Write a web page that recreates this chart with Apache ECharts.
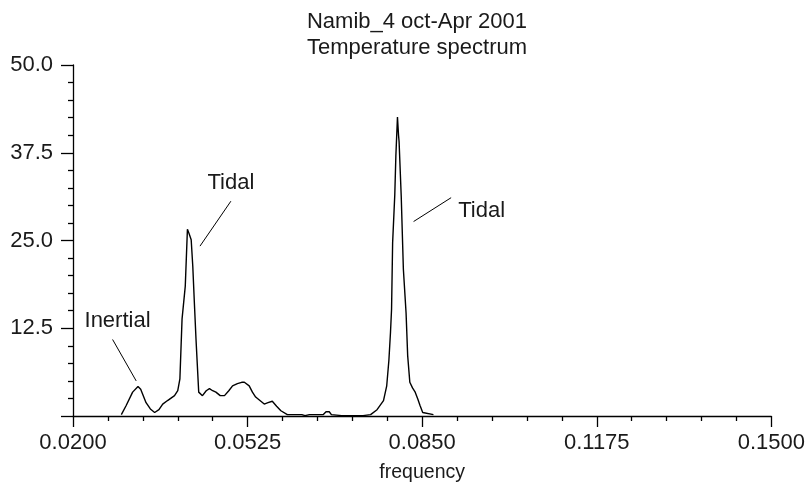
<!DOCTYPE html>
<html>
<head>
<meta charset="utf-8">
<script src="https://cdn.jsdelivr.net/npm/echarts@6/dist/echarts.min.js"></script>
<style>
  html, body { margin: 0; padding: 0; background: #fff; }
  #chart { width: 808px; height: 488px; }
</style>
</head>
<body>
<div id="chart"></div>
<script>
// Spectral estimate of temperature, Namib_4 mooring (Oct–Apr 2001)
const frequency = [
  0.0290, 0.0299, 0.0311, 0.0321, 0.0326, 0.0336, 0.0344, 0.0352, 0.0360, 0.0367,
  0.0376, 0.0389, 0.0395, 0.0399, 0.0403, 0.0409, 0.0413, 0.0416, 0.0420, 0.0423,
  0.0426, 0.0429, 0.0434, 0.0441, 0.0448, 0.0454, 0.0460, 0.0466, 0.0474, 0.0482,
  0.0490, 0.0497, 0.0506, 0.0514, 0.0519, 0.0528, 0.0534, 0.0540, 0.0548, 0.0556,
  0.0563, 0.0571, 0.0579, 0.0587, 0.0599, 0.0608, 0.0626, 0.0632, 0.0640, 0.0666,
  0.0671, 0.0677, 0.0681, 0.0700, 0.0740, 0.0754, 0.0766, 0.0778, 0.0784, 0.0788,
  0.0791, 0.0793, 0.0795, 0.0799, 0.0801, 0.0804, 0.0806, 0.0807, 0.0811, 0.0815,
  0.0820, 0.0823, 0.0827, 0.0832, 0.0837, 0.0842, 0.0846, 0.0851, 0.0871
];
const power = [
  0.2, 1.5, 3.4, 4.2, 3.8, 1.9, 1.0, 0.5, 0.9, 1.7,
  2.2, 2.9, 3.6, 5.3, 13.8, 18.5, 26.6, 26.0, 25.1, 21.3,
  16.0, 10.9, 3.4, 2.9, 3.6, 3.9, 3.6, 3.4, 2.9, 2.9,
  3.6, 4.3, 4.6, 4.8, 4.8, 4.3, 3.4, 2.7, 2.2, 1.7,
  1.9, 2.1, 1.4, 0.75, 0.2, 0.2, 0.2, 0.05, 0.2, 0.2,
  0.6, 0.6, 0.2, 0.05, 0.05, 0.2, 0.9, 2.2, 4.3, 7.9,
  11.9, 15.2, 24.7, 31.5, 37.0, 42.6, 40.0, 39.1, 31.3, 20.9,
  14.7, 8.6, 4.8, 4.0, 3.4, 2.4, 1.5, 0.5, 0.2
];

// Axis tick values
const xTicks = [0.0200, 0.0525, 0.0850, 0.1175, 0.1500];
const yTicks = [0, 12.5, 25.0, 37.5, 50.0];

// Peak annotations: label text, label anchor, leader line ends (data units)
const noteNames = ['Inertial', 'Tidal', 'Tidal'];
const noteLabelAt = [[0.02829, 13.6], [0.0494, 33.2], [0.09607, 29.2]];
const noteLineFrom = [[0.02737, 10.9], [0.04939, 30.6], [0.09039, 31.1]];
const noteLineTo = [[0.03176, 5.0], [0.04364, 24.2], [0.0834, 27.7]];

const FONT = '"Liberation Sans", Arial, Helvetica, sans-serif';
const TXT = '#1a1a1a';

const chart = echarts.init(document.getElementById('chart'), null, { renderer: 'canvas' });

const seriesData = frequency.map((f, i) => [f, power[i]]);
const xStep = xTicks[1] - xTicks[0];
const yStep = yTicks[1] - yTicks[0];

chart.setOption({
  backgroundColor: '#ffffff',
  animation: false,
  title: {
    text: 'Namib_4 oct-Apr 2001\nTemperature spectrum',
    left: 412,
    top: 4,
    textAlign: 'center',
    textStyle: { fontFamily: FONT, fontSize: 22, fontWeight: 'normal', color: TXT, lineHeight: 26 }
  },
  grid: { left: 73, right: 34, top: 65, bottom: 71, containLabel: false },
  xAxis: {
    type: 'value',
    min: xTicks[0],
    max: xTicks[xTicks.length - 1],
    interval: xStep,
    name: 'frequency',
    nameLocation: 'middle',
    nameGap: 47,
    nameTextStyle: { fontFamily: FONT, fontSize: 19.5, color: TXT },
    axisLine: { show: true, onZero: false, lineStyle: { color: '#000', width: 1.3 } },
    axisTick: { show: true, length: 11, lineStyle: { color: '#000', width: 1.3 } },
    minorTick: { show: true, splitNumber: 5, length: 5, lineStyle: { color: '#000', width: 1.3 } },
    splitLine: { show: false },
    minorSplitLine: { show: false },
    axisLabel: {
      margin: 16,
      fontFamily: FONT, fontSize: 22, color: TXT,
      formatter: v => v.toFixed(4)
    }
  },
  yAxis: {
    type: 'value',
    min: yTicks[0],
    max: yTicks[yTicks.length - 1],
    interval: yStep,
    axisLine: { show: true, onZero: false, lineStyle: { color: '#000', width: 1.3 } },
    axisTick: { show: true, length: 12, lineStyle: { color: '#000', width: 1.3 } },
    minorTick: { show: true, splitNumber: 5, length: 5, lineStyle: { color: '#000', width: 1.3 } },
    splitLine: { show: false },
    minorSplitLine: { show: false },
    axisLabel: {
      margin: 20,
      fontFamily: FONT, fontSize: 22, color: TXT,
      formatter: v => (v === 0 ? '' : v.toFixed(1))
    }
  },
  series: [{
    type: 'line',
    data: seriesData,
    showSymbol: false,
    symbol: 'none',
    lineStyle: { color: '#000', width: 1.4 },
    z: 3,
    markLine: {
      silent: true,
      symbol: ['none', 'none'],
      label: { show: false },
      lineStyle: { color: '#000', width: 1, type: 'solid' },
      data: noteLineFrom.map((p, i) => [{ coord: p }, { coord: noteLineTo[i] }])
    },
    markPoint: {
      silent: true,
      symbol: 'circle',
      symbolSize: 0,
      itemStyle: { color: 'transparent' },
      label: {
        show: true,
        position: 'inside',
        formatter: '{b}',
        fontFamily: FONT, fontSize: 22, color: TXT
      },
      data: noteNames.map((n, i) => ({ name: n, coord: noteLabelAt[i] }))
    }
  }]
});
</script>
</body>
</html>
